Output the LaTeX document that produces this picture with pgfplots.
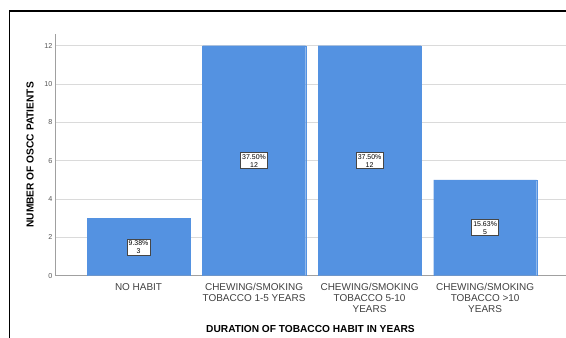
\documentclass[border=0pt]{standalone}
\usepackage{fontspec}
\setmainfont{Liberation Sans}
\usepackage{pgfplots}
\pgfplotsset{compat=1.18}
\definecolor{barblue}{RGB}{84,146,225}
\definecolor{gridgray}{RGB}{218,218,218}
\definecolor{axisgray}{RGB}{160,160,160}
\definecolor{ticktext}{RGB}{85,85,85}
\definecolor{cattext}{RGB}{64,64,64}
\definecolor{boxedge}{RGB}{70,70,70}
\begin{document}
\begin{tikzpicture}
\begin{axis}[
  at={(0bp,0bp)}, anchor=south west,
  width=511bp, height=241.7bp, scale only axis,
  xmin=-0.723, xmax=3.70, ymin=0, ymax=12.61,
  xtick={0,1,2,3},
  xticklabels={{NO HABIT},{CHEWING/SMOKING\\TOBACCO 1-5 YEARS},{CHEWING/SMOKING\\TOBACCO 5-10\\YEARS},{CHEWING/SMOKING\\TOBACCO >10\\YEARS}},
  ytick={0,2,4,6,8,10,12},
  ymajorgrids, grid style={draw=gridgray, line width=0.8bp},
  axis lines*=left,
  axis line style={draw=axisgray, line width=0.9bp},
  major tick length=0pt,
  /pgf/number format/assume math mode=true,
  yticklabel style={font=\fontsize{7.2}{8}\selectfont, text=ticktext, inner sep=1pt, xshift=-1.5bp},
  xticklabel style={font=\fontsize{10}{11}\selectfont, text=cattext, align=center, anchor=north, inner sep=0pt, yshift=-7.5bp},
  xlabel={DURATION OF TOBACCO HABIT IN YEARS},
  ylabel={NUMBER OF OSCC PATIENTS},
  xlabel style={font=\bfseries\fontsize{10.2}{12}\selectfont, at={(rel axis cs:0.5,-0.2214)}, anchor=center},
  ylabel style={font=\bfseries\fontsize{10.2}{12}\selectfont, at={(rel axis cs:-0.0489,0.5)}, anchor=center},
]
\addplot[ybar, bar width=0.892, fill=barblue, draw=barblue, line width=0.1pt]
  coordinates {(0,3) (1,12) (2,12) (3,5)};
\addplot[draw=none, mark=none, nodes near coords, point meta=explicit symbolic,
  every node near coord/.append style={anchor=center, align=center, fill=white, draw=boxedge, line width=0.8bp, font=\fontsize{7}{7.8}\selectfont, inner sep=1.6bp, text=black}]
  coordinates {(0,1.5) [{9.38\%\\3}] (1,6) [{37.50\%\\12}] (2,6) [{37.50\%\\12}] (3,2.5) [{15.63\%\\5}]};
\end{axis}
\draw[line width=1.5bp, black] (-45.5bp,-80bp) -- (-45.5bp,264.7bp) -- (530bp,264.7bp);
\pgfresetboundingbox
\useasboundingbox (-55bp,-62.3bp) rectangle (511bp,275.7bp);
\end{tikzpicture}
\end{document}
